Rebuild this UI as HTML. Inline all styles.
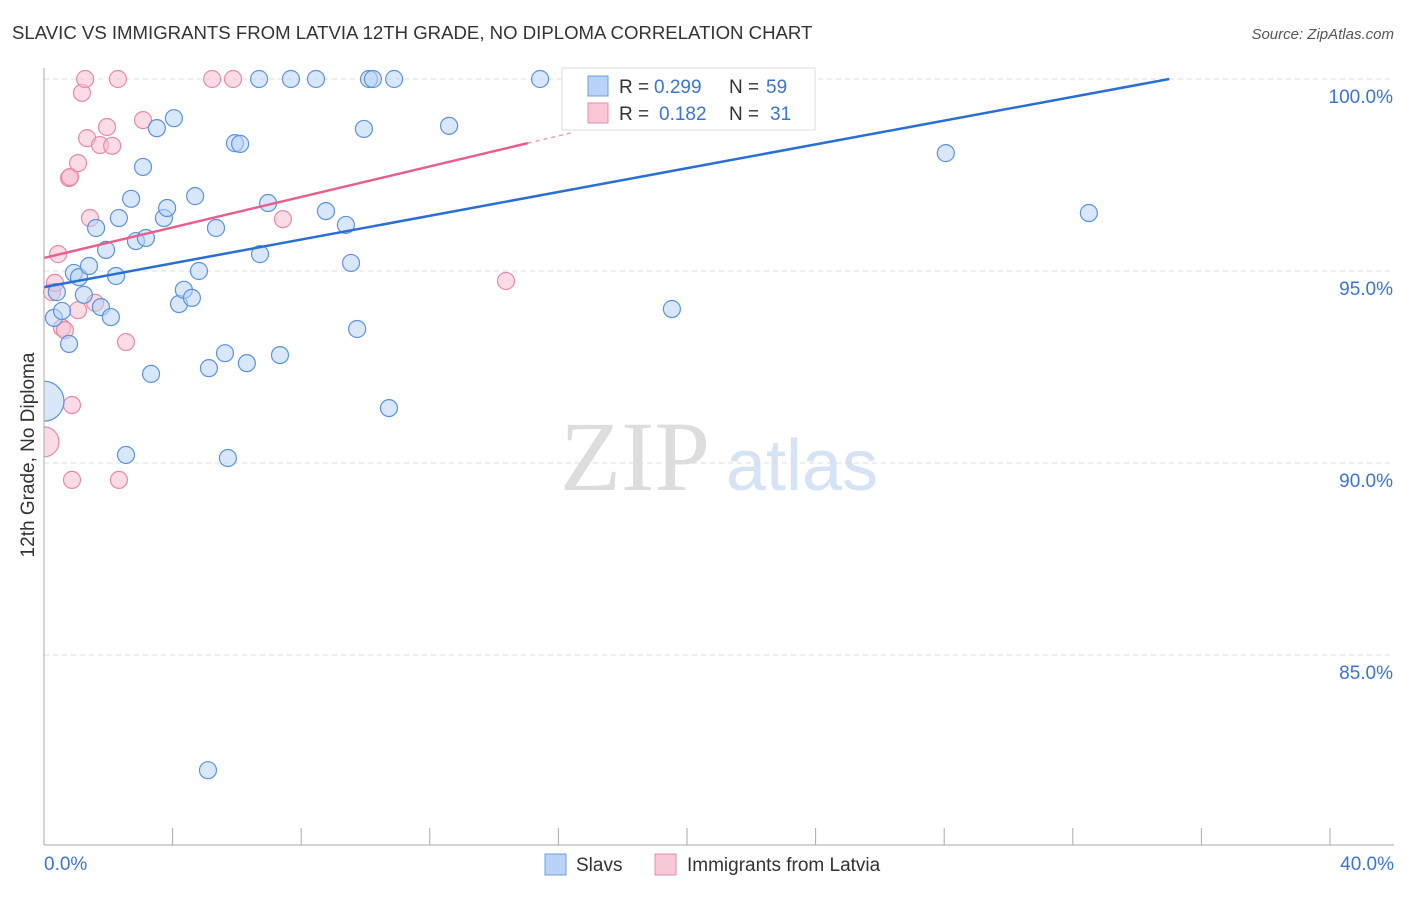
<!DOCTYPE html>
<html><head><meta charset="utf-8"><style>
body{margin:0;background:#fff;font-family:"Liberation Sans",sans-serif;}
</style></head><body>
<svg id="chart" width="1406" height="892" xmlns="http://www.w3.org/2000/svg" font-family="Liberation Sans, sans-serif">
<text x="12" y="39" font-size="18.6" fill="#333">SLAVIC VS IMMIGRANTS FROM LATVIA 12TH GRADE, NO DIPLOMA CORRELATION CHART</text>
<text x="1394" y="39" font-size="15" fill="#555" font-style="italic" text-anchor="end">Source: ZipAtlas.com</text>
<g>
<text x="635" y="490" font-size="100" fill="#ddd" text-anchor="middle" font-family="Liberation Serif, serif">ZIP</text>
<text x="802" y="490" font-size="72" fill="#d5e3f5" text-anchor="middle">atlas</text>
</g>
<g id="grid"></g><g id="marks"></g>
<rect x="0" y="360" width="43.5" height="120" fill="#fff"/>
<g id="axes"></g>
<text x="0" y="0" transform="translate(34,455) rotate(-90)" font-size="19" fill="#333" text-anchor="middle">12th Grade, No Diploma</text>
<g>
<rect x="562" y="68" width="253" height="62" fill="#fff" stroke="#ddd"/>
<rect x="588" y="76" width="20" height="20" fill="#b8d3f5" stroke="#6c9fe0"/>
<text y="93" font-size="19" fill="#333"><tspan x="619">R =</tspan><tspan x="654" fill="#3a75d6">0.299</tspan><tspan x="729">N =</tspan><tspan x="766" fill="#3a75d6">59</tspan></text>
<rect x="588" y="103" width="20" height="20" fill="#f8c8d6" stroke="#e88aa6"/>
<text y="120" font-size="19" fill="#333"><tspan x="619">R =</tspan><tspan x="659" fill="#3a75d6">0.182</tspan><tspan x="729">N =</tspan><tspan x="770" fill="#3a75d6">31</tspan></text>
</g>
<g>
<rect x="545" y="854" width="21" height="21" fill="#b8d3f5" stroke="#6c9fe0"/>
<text x="576" y="871" font-size="19" fill="#333">Slavs</text>
<rect x="655" y="854" width="21" height="21" fill="#f8c8d6" stroke="#e88aa6"/>
<text x="687" y="871" font-size="19" fill="#333">Immigrants from Latvia</text>
</g>
</svg>
<script>
const yTicks=[100,95,90,85];
const xTickLabels=["0.0%","40.0%"];
const slavX=[0,0.31,0.40,0.56,0.78,0.93,1.09,1.24,1.40,1.62,1.77,1.93,2.08,2.24,2.33,2.55,2.71,2.86,3.08,3.17,3.33,3.51,3.73,3.83,4.04,4.20,4.35,4.60,4.70,4.82,5.10,5.13,5.35,5.63,5.72,5.94,6.10,6.31,6.69,6.72,6.97,7.34,7.68,8.46,8.77,9.39,9.55,9.74,9.95,10.11,10.23,10.73,10.89,12.60,15.43,16.99,19.53,28.05,32.50];
const slavY=[91.61,93.78,94.45,93.96,93.10,94.95,94.84,94.38,95.13,96.12,94.06,95.55,93.80,94.87,96.38,90.21,96.88,95.78,97.71,95.86,92.32,98.72,96.38,96.64,98.98,94.14,94.51,94.30,96.95,95.00,82.0,92.47,96.12,92.86,90.13,98.33,98.31,92.60,100,95.44,96.77,92.81,100,100,96.56,96.20,95.21,93.49,98.70,100,100,91.43,100,98.78,100,100,94.01,98.07,96.51];
const latX=[0,0.25,0.34,0.44,0.56,0.65,0.78,0.81,0.87,0.87,1.06,1.06,1.18,1.28,1.34,1.43,1.59,1.74,1.96,2.12,2.30,2.33,2.55,3.08,5.23,5.88,7.43,14.37];
const latY=[90.55,94.45,94.69,95.44,93.52,93.46,97.42,97.45,91.51,89.56,93.98,97.81,99.64,100,98.46,96.38,94.17,98.28,98.75,98.26,100,89.56,93.15,98.93,100,100,96.35,94.74];
const slavTrend=[0,94.58,35.0,100];
const latTrend=[0,95.34,15.05,98.33];
const NS="http://www.w3.org/2000/svg";
const X=v=>44+v/40*1286, Y=v=>79+(100-v)*38.4;
function mk(t,a,p){const e=document.createElementNS(NS,t);for(const k in a)e.setAttribute(k,a[k]);p.appendChild(e);return e;}
const grid=document.getElementById('grid'),axes=document.getElementById('axes'),marks=document.getElementById('marks');
yTicks.forEach(t=>{
 const l=mk('line',{x1:44,x2:1394,y1:Y(t),y2:Y(t),stroke:'#ddd','stroke-dasharray':'5,4'},grid);
 
 
 const tx=mk('text',{x:1393,y:Y(t)+24,'font-size':19,fill:'#3a75d6','text-anchor':'end'},axes);
 tx.textContent=t.toFixed(1)+'%';
 
 
});
mk('line',{x1:44,x2:44,y1:68,y2:845,stroke:'#aaa'},axes);
mk('line',{x1:44,x2:1394,y1:845,y2:845,stroke:'#aaa'},axes);
for(let i=0;i<=10;i++){const l=mk('line',{x1:X(i*4),x2:X(i*4),y1:828,y2:845,stroke:'#aaa'},axes);
 
 }
const a0=mk('text',{x:44,y:870,'font-size':19,fill:'#3a75d6'},axes);a0.textContent=xTickLabels[0];


const a1=mk('text',{x:1394,y:870,'font-size':19,fill:'#3a75d6','text-anchor':'end'},axes);a1.textContent=xTickLabels[1];


function dots(xs,ys,fill,stroke,name){xs.forEach((x,i)=>{
 const big=(i===0);
 const c=mk('circle',{cx:X(x),cy:Y(ys[i]),r:big?(name==='slav'?20:15):8.5,fill:fill,'fill-opacity':0.55,stroke:stroke,'stroke-width':1.2},marks);
 
 
});}
dots(latX,latY,'#f8c0d2','#e88aa6','latvia');
dots(slavX,slavY,'#b8d3f5','#5b93e0','slav');
const t1=mk('line',{x1:X(slavTrend[0]),y1:Y(slavTrend[1]),x2:X(slavTrend[2]),y2:Y(slavTrend[3]),stroke:'#2a6fd6','stroke-width':2.5},marks);


const t2=mk('line',{x1:X(latTrend[0]),y1:Y(latTrend[1]),x2:X(latTrend[2]),y2:Y(latTrend[3]),stroke:'#e8608a','stroke-width':2.5},marks);


const s=(latTrend[3]-latTrend[1])/(latTrend[2]-latTrend[0]);
const t3=mk('line',{x1:X(latTrend[2]),y1:Y(latTrend[3]),x2:X(16.5),y2:Y(latTrend[1]+s*16.5),stroke:'#f0a0b8','stroke-width':1.5,'stroke-dasharray':'4,4'},marks);


</script>
</body></html>
